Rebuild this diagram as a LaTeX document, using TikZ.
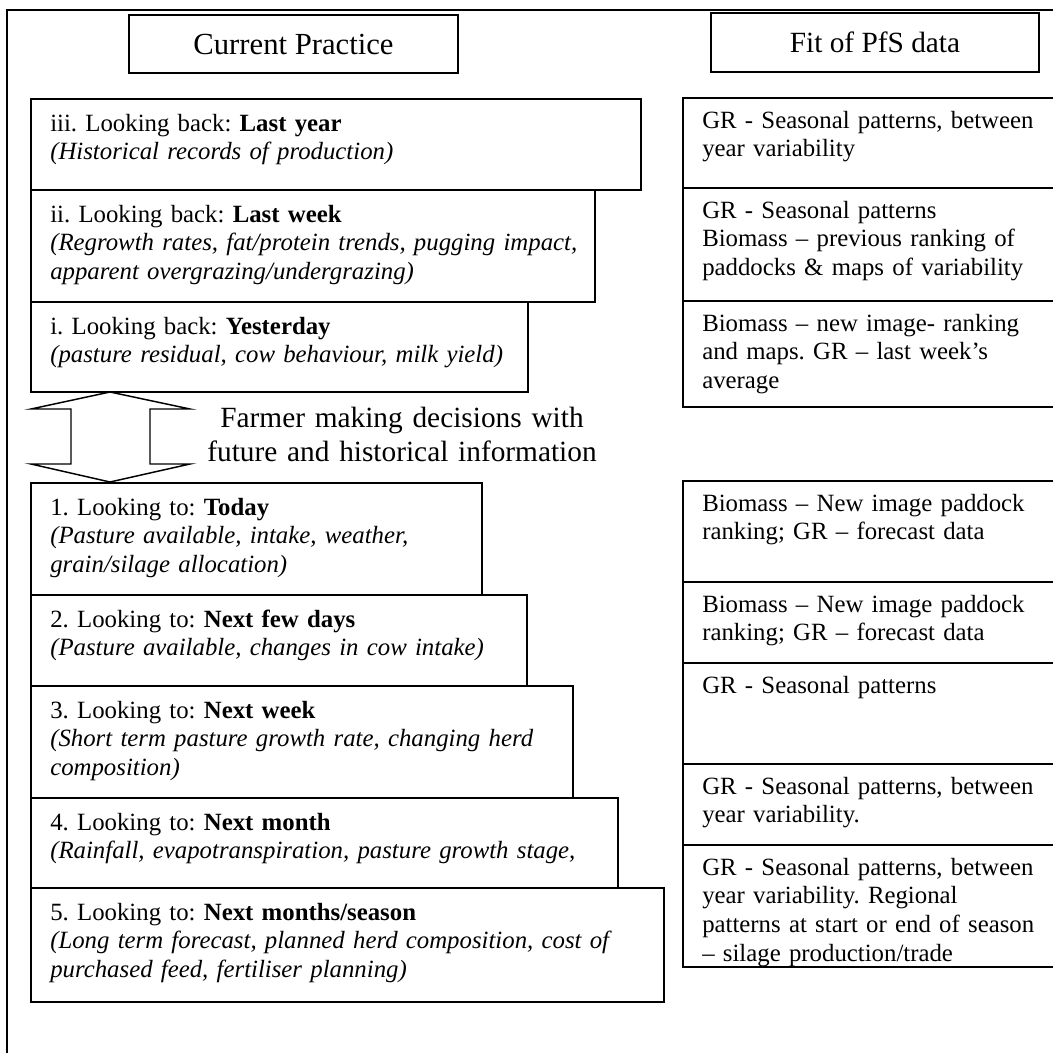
\documentclass[tikz,border=0pt]{standalone}
\usepackage{fontspec}
\setmainfont{Liberation Serif}
\usetikzlibrary{positioning}
\frenchspacing

\tikzset{
  frame/.style={line width=1.1pt},
  boxtext/.style={anchor=base west, inner sep=0pt, align=left, text width=460pt, font=\fontsize{18.6}{21.6}\selectfont},
  titletext/.style={inner sep=0pt, font=\fontsize{22}{26}\selectfont}
}

\begin{document}
\begin{tikzpicture}[x=0.75pt,y=0.75pt,yscale=-1,xscale=1]
\useasboundingbox (0,0) rectangle (1053,1053);
\clip (0,0) rectangle (1053,1053);

%Shape: outer frame
\draw [frame] (7,10) rectangle (1070,1070);

%Shape: Rectangle - headings
\draw [frame] (129,15) rectangle (458,73);
\draw [frame] (711,13) rectangle (1039,72);
% Text Node
\node (current) [titletext, font=\fontsize{23}{26}\selectfont] at (293.5,44) {Current Practice};
% Text Node
\node (fitpfs) [titletext] at (875,42.5) {Fit of PfS data};

%Shape: Rectangle - looking back
\draw [frame] (31,99) rectangle (641,190);
\draw [frame] (31,190) rectangle (595,302);
\draw [frame] (31,302) rectangle (528,392);

%Shape: Rectangle - looking to
\draw [frame] (31,483) rectangle (482,595);
\draw [frame] (31,595) rectangle (527,686);
\draw [frame] (31,686) rectangle (573,798);
\draw [frame] (31,798) rectangle (618,888);
\draw [frame] (31,888) rectangle (664,1002);

%Shape: Rectangle - fit column
\draw [frame] (683,98) rectangle (1070,188);
\draw [frame] (683,188) rectangle (1070,301);
\draw [frame] (683,301) rectangle (1070,407);
\draw [frame] (683,481) rectangle (1070,582);
\draw [frame] (683,582) rectangle (1070,663);
\draw [frame] (683,663) rectangle (1070,764);
\draw [frame] (683,764) rectangle (1070,845);
\draw [frame] (683,845) rectangle (1070,967);

%Shape: Up Down Arrow
\draw [frame, line join=miter] (110,392) -- (190,409) -- (150,409) -- (150,464) -- (190,464) -- (110,482) -- (31,464) -- (71,464) -- (71,409) -- (31,409) -- cycle ;

% Text Node
\node (farmer) [titletext, anchor=base, align=center, text width=420pt] at (402,427) {Farmer making decisions with\\future and historical information};

% Text Node
\node (lastyear) [boxtext] at (50,131) {iii. Looking back: \textbf{Last year}\\\textit{(Historical records of production)}};
% Text Node
\node (lastweek) [boxtext] at (50,222) {ii. Looking back: \textbf{Last week}\\\textit{(Regrowth rates, fat/protein trends, pugging impact,}\\\textit{apparent overgrazing/undergrazing)}};
% Text Node
\node (yesterday) [boxtext] at (50,334) {i. Looking back: \textbf{Yesterday}\\\textit{(pasture residual, cow behaviour, milk yield)}};
% Text Node
\node (today) [boxtext] at (50,515) {1. Looking to: \textbf{Today}\\\textit{(Pasture available, intake, weather,}\\\textit{grain/silage allocation)}};
% Text Node
\node (fewdays) [boxtext] at (50,627) {2. Looking to: \textbf{Next few days}\\\textit{(Pasture available, changes in cow intake)}};
% Text Node
\node (nextweek) [boxtext] at (50,718) {3. Looking to: \textbf{Next week}\\\textit{(Short term pasture growth rate, changing herd}\\\textit{composition)}};
% Text Node
\node (nextmonth) [boxtext] at (50,830) {4. Looking to: \textbf{Next month}\\\textit{(Rainfall, evapotranspiration, pasture growth stage,}};
% Text Node
\node (season) [boxtext] at (50,920) {5. Looking to: \textbf{Next months/season}\\\textit{(Long term forecast, planned herd composition, cost of}\\\textit{purchased feed, fertiliser planning)}};

% Text Node
\node (fityear) [boxtext] at (702,128) {GR - Seasonal patterns, between\\year variability};
% Text Node
\node (fitweek) [boxtext] at (702,218) {GR - Seasonal patterns\\Biomass – previous ranking of\\paddocks \& maps of variability};
% Text Node
\node (fitday) [boxtext] at (702,331) {Biomass – new image- ranking\\and maps. GR – last week’s\\average};
% Text Node
\node (fittoday) [boxtext] at (702,511) {Biomass – New image paddock\\ranking; GR – forecast data};
% Text Node
\node (fitdays) [boxtext] at (702,612) {Biomass – New image paddock\\ranking; GR – forecast data};
% Text Node
\node (fitnextweek) [boxtext] at (702,693) {GR - Seasonal patterns};
% Text Node
\node (fitmonth) [boxtext] at (702,794) {GR - Seasonal patterns, between\\year variability.};
% Text Node
\node (fitseason) [boxtext] at (702,875) {GR - Seasonal patterns, between\\year variability. Regional\\patterns at start or end of season\\– silage production/trade};

\end{tikzpicture}
\end{document}
